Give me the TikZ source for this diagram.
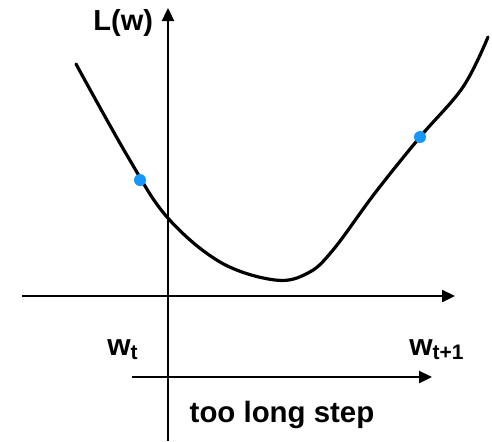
\documentclass[tikz,border=0pt]{standalone}
\usepackage{fontspec}
\setmainfont{Liberation Sans}
\usetikzlibrary{arrows.meta}
\definecolor{dotblue}{RGB}{20,150,250}
\begin{document}
\begin{tikzpicture}[x=0.5pt,y=-0.5pt,
  axis/.style={line width=1.2pt,-{Triangle[length=6.5pt,width=6pt]}},
  curve/.style={line width=1.6pt,line cap=round},
  dot/.style={circle,fill=dotblue,inner sep=0pt,minimum size=6pt},
  lbl/.style={inner sep=0pt,font=\bfseries}]
\useasboundingbox (0,0) rectangle (492,441);
% axes
\draw[axis] (22,296) -- (455,296);
\draw[axis] (168,441) -- (168,8);
\draw[axis] (132,377) -- (432,377);
% curve
\draw[curve] plot[smooth,tension=0.6] coordinates {(76,64) (128,157) (167,217) (220,262) (275,280) (308,273) (333,250) (375,193) (420,137) (463,87) (488,37)};
\node[dot] (p1) at (140,180) {};
\node[dot] (p2) at (420,137) {};
% labels
\node[lbl,anchor=base west,font=\fontsize{14.5}{14.5}\bfseries\selectfont] (L) at (93,30) {L(w)};
\node[lbl,anchor=base west] (wt) at (107,355) {\fontsize{15}{15}\selectfont w\raisebox{-2pt}{\fontsize{10.5}{10.5}\selectfont t}};
\node[lbl,anchor=base west] (wt1) at (409,355) {\fontsize{15}{15}\selectfont w\raisebox{-2pt}{\fontsize{10.5}{10.5}\selectfont t+1}};
\node[lbl,anchor=base,font=\fontsize{14.7}{14.7}\bfseries\selectfont] (step) at (282,422) {too long step};
\end{tikzpicture}
\end{document}
